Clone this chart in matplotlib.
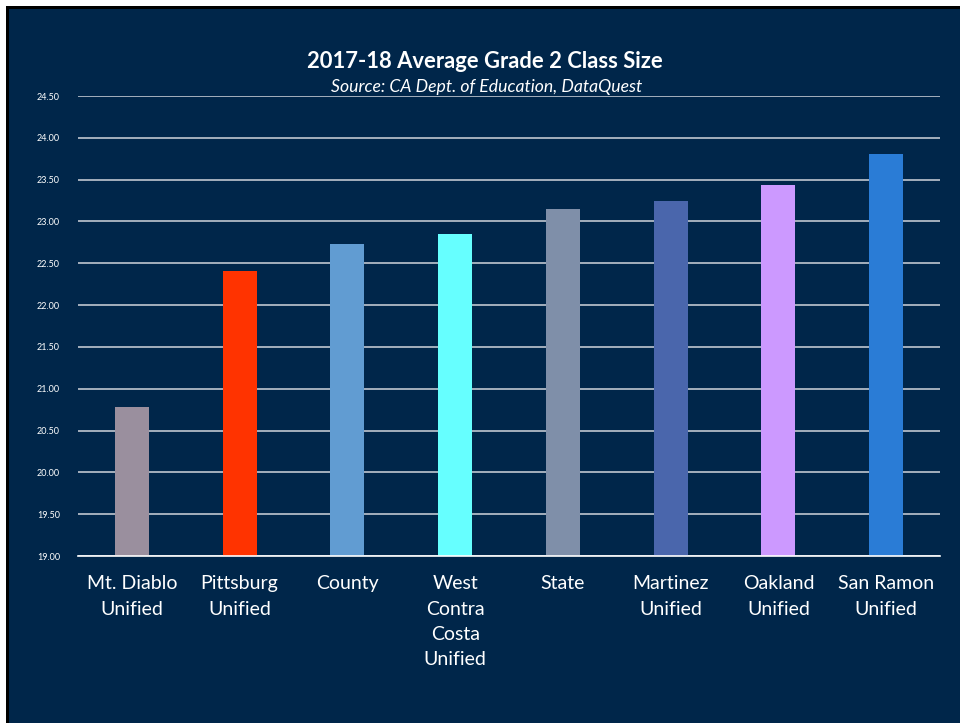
import matplotlib.pyplot as plt
from matplotlib.patches import Rectangle

plt.rcParams['font.family'] = ['Lato', 'DejaVu Sans']

categories = ['Mt. Diablo\nUnified', 'Pittsburg\nUnified', 'County',
              'West\nContra\nCosta\nUnified', 'State', 'Martinez\nUnified',
              'Oakland\nUnified', 'San Ramon\nUnified']
values = [20.78, 22.41, 22.73, 22.85, 23.15, 23.25, 23.43, 23.81]
colors = ['#9a8f9e', '#ff3300', '#619cd2', '#66ffff', '#7f8fa9', '#4a66ac',
          '#cc99ff', '#2a7cd6']
yticks = [19.0, 19.5, 20.0, 20.5, 21.0, 21.5, 22.0, 22.5, 23.0, 23.5, 24.0, 24.5]

navy = '#00264a'
fig = plt.figure(figsize=(9.6, 7.23), dpi=100)
fig.patch.set_facecolor('white')
# slide background with black edge on the top/left
fig.patches.append(Rectangle((6 / 960, 0), 1, 1 - 6 / 723, transform=fig.transFigure,
                             facecolor='black', edgecolor='none', zorder=-2))
fig.patches.append(Rectangle((9 / 960, 0), 1, 1 - 9 / 723, transform=fig.transFigure,
                             facecolor=navy, edgecolor='none', zorder=-1))

ax = fig.add_axes([78 / 960, 1 - 556 / 723, 862 / 960, 460 / 723])
ax.set_facecolor('none')

x = range(len(categories))
ax.bar(x, [v - 19 for v in values], bottom=19, width=0.315, color=colors, zorder=3)

ax.set_xlim(-0.5, len(categories) - 0.5)
ax.set_ylim(19, 24.5)
ax.set_yticks(yticks)
ax.set_yticklabels(['%.2f' % t for t in yticks], fontsize=6.5, color='white')
ax.set_xticks(list(x))
ax.set_xticklabels(categories, fontsize=14, color='white', linespacing=1.58)
ax.tick_params(axis='y', length=0, pad=13)
ax.tick_params(axis='x', length=0, pad=14)
ax.yaxis.grid(True, color='#c0c6d0', linewidth=1.2, zorder=1)
for s in ['top', 'right', 'left']:
    ax.spines[s].set_visible(False)
ax.spines['bottom'].set_color('white')
ax.spines['bottom'].set_linewidth(1.2)
ax.spines['bottom'].set_zorder(4)

fig.text(485 / 960, 1 - 62 / 723, '2017-18 Average Grade 2 Class Size', ha='center',
         va='center', fontsize=15.8, fontweight='bold', color='white')
fig.text(487 / 960, 1 - 87 / 723, 'Source: CA Dept. of Education, DataQuest', ha='center',
         va='center', fontsize=12.7, style='italic', color='white')

fig.savefig('out.png', dpi=100, facecolor=fig.get_facecolor())
